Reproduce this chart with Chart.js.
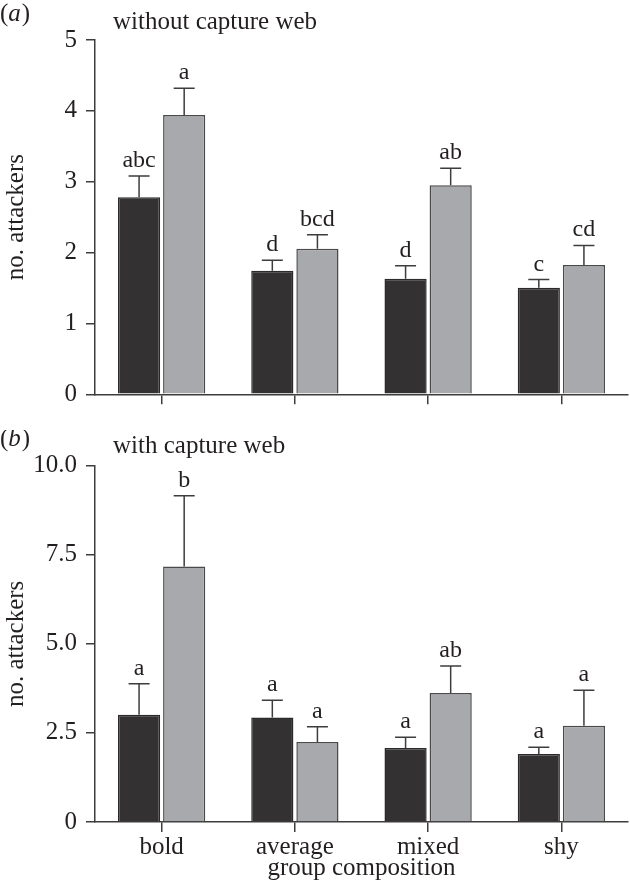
<!DOCTYPE html>
<html>
<head>
<meta charset="utf-8">
<script src="https://cdn.jsdelivr.net/npm/chart.js@4.4.1/dist/chart.umd.min.js"></script>
<style>
  html, body { margin: 0; padding: 0; background: #fff; }
  #wrap { position: relative; width: 630px; height: 885px; }
  canvas { position: absolute; left: 0; }
  #chart-a { top: 0; }
  #chart-b { top: 430px; }
</style>
</head>
<body>
<div id="wrap">
  <canvas id="chart-a" width="630" height="430"></canvas>
  <canvas id="chart-b" width="630" height="455"></canvas>
</div>
<script>
// ---- data ----
const groups = ['bold', 'average', 'mixed', 'shy'];

// (a) without capture web
const noWebDark = [2.78, 1.745, 1.63, 1.505];
const noWebDarkSE = [0.30, 0.145, 0.185, 0.115];
const noWebGrey = [3.94, 2.055, 2.95, 1.825];
const noWebGreySE = [0.38, 0.195, 0.24, 0.275];
const noWebDarkLetters = ['abc', 'd', 'd', 'c'];
const noWebGreyLetters = ['a', 'bcd', 'ab', 'cd'];
const noWebTicks = [0, 1, 2, 3, 4, 5];

// (b) with capture web
const webDark = [3.01, 2.93, 2.08, 1.91];
const webDarkSE = [0.87, 0.49, 0.30, 0.19];
const webGrey = [7.17, 2.245, 3.62, 2.70];
const webGreySE = [1.99, 0.43, 0.76, 1.00];
const webDarkLetters = ['a', 'a', 'a', 'a'];
const webGreyLetters = ['b', 'a', 'ab', 'a'];
const webTicks = [0, 2.5, 5, 7.5, 10];

const SERIF = '"Liberation Serif", "Times New Roman", serif';
const INK = '#231f20';
const AXIS = '#3d3d3d';
const FS = 25;

Chart.defaults.font.family = SERIF;
Chart.defaults.font.size = FS;
Chart.defaults.color = INK;

// error bars + significance letters above each bar
const errorBars = {
    id: 'errorBars',
    afterDatasetsDraw(chart) {
        const ctx = chart.ctx;
        const y = chart.scales.y;
        ctx.save();
        ctx.strokeStyle = AXIS;
        ctx.lineWidth = 1.5;
        ctx.fillStyle = INK;
        ctx.font = '24px ' + SERIF;
        ctx.textAlign = 'center';
        ctx.textBaseline = 'alphabetic';
        chart.data.datasets.forEach((ds, i) => {
            chart.getDatasetMeta(i).data.forEach((bar, j) => {
                const top = y.getPixelForValue(ds.data[j] + ds.se[j]);
                ctx.beginPath();
                ctx.moveTo(bar.x, bar.y);
                ctx.lineTo(bar.x, top);
                ctx.moveTo(bar.x - 10.5, top);
                ctx.lineTo(bar.x + 10.5, top);
                ctx.stroke();
                ctx.fillText(ds.letters[j], bar.x, top - 9);
            });
        });
        ctx.restore();
    }
};

// panel tag "(a)" and heading
const panelText = {
    id: 'panelText',
    afterDraw(chart, args, opts) {
        const ctx = chart.ctx;
        ctx.save();
        ctx.fillStyle = INK;
        ctx.textBaseline = 'alphabetic';
        ctx.textAlign = 'left';
        let x = 0;
        ctx.font = FS + 'px ' + SERIF;
        ctx.fillText('(', x, opts.tagY);
        x += ctx.measureText('(').width;
        ctx.font = 'italic ' + FS + 'px ' + SERIF;
        ctx.fillText(opts.tag, x, opts.tagY);
        x += ctx.measureText(opts.tag).width + 1;
        ctx.font = FS + 'px ' + SERIF;
        ctx.fillText(')', x, opts.tagY);
        ctx.fillText(opts.title, 113, opts.titleY);
        ctx.restore();
    }
};

function makeChart(id, cfg) {
    return new Chart(document.getElementById(id), {
        type: 'bar',
        data: {
            labels: groups,
            datasets: [
                { label: 'dark', data: cfg.dark, se: cfg.darkSE, letters: cfg.darkLetters,
                  backgroundColor: '#333132', borderColor: '#2b292a', borderWidth: 1.5 },
                { label: 'grey', data: cfg.grey, se: cfg.greySE, letters: cfg.greyLetters,
                  backgroundColor: '#a8a9ac', borderColor: '#4a4a4c', borderWidth: 1.5 }
            ]
        },
        options: {
            responsive: false,
            animation: false,
            devicePixelRatio: 1,
            categoryPercentage: 0.677,
            barPercentage: 0.935,
            layout: { padding: { top: cfg.top, right: 2, left: 0, bottom: 0 } },
            plugins: {
                legend: { display: false },
                tooltip: { enabled: false },
                panelText: cfg.panel
            },
            scales: {
                x: {
                    grid: { display: true, drawOnChartArea: false, drawTicks: true, offset: false,
                            tickLength: 10, color: AXIS, lineWidth: 1.5 },
                    border: { display: true, color: AXIS, width: 1.5 },
                    ticks: { display: cfg.showLabels, padding: 0, font: { size: FS, lineHeight: 1.2 } },
                    title: { display: cfg.showLabels, text: 'group composition',
                             font: { size: FS, lineHeight: 1.2 }, padding: { top: 0, bottom: 2 } },
                    afterFit: s => { s.height = cfg.xHeight; }
                },
                y: {
                    min: cfg.ticks[0],
                    max: cfg.ticks[cfg.ticks.length - 1],
                    afterBuildTicks: s => { s.ticks = cfg.ticks.map(v => ({ value: v })); },
                    grid: { display: true, drawOnChartArea: false, drawTicks: true,
                            tickLength: 9, color: AXIS, lineWidth: 1.5 },
                    border: { display: true, color: AXIS, width: 1.5 },
                    ticks: { padding: 9, callback: cfg.fmt },
                    title: { display: true, text: 'no. attackers',
                             font: { size: FS, lineHeight: 1.2 }, padding: { top: 1, bottom: 0 } },
                    afterFit: s => { s.width = 95; }
                }
            }
        },
        plugins: [errorBars, panelText]
    });
}

makeChart('chart-a', {
    dark: noWebDark, darkSE: noWebDarkSE, darkLetters: noWebDarkLetters,
    grey: noWebGrey, greySE: noWebGreySE, greyLetters: noWebGreyLetters,
    ticks: noWebTicks, fmt: v => String(v),
    top: 40, xHeight: 35.7, showLabels: false,
    panel: { tag: 'a', title: 'without capture web', tagY: 20.5, titleY: 28.5 }
});

makeChart('chart-b', {
    dark: webDark, darkSE: webDarkSE, darkLetters: webDarkLetters,
    grey: webGrey, greySE: webGreySE, greyLetters: webGreyLetters,
    ticks: webTicks, fmt: v => (v === 0 ? '0' : v.toFixed(1)),
    top: 35.7, xHeight: 63, showLabels: true,
    panel: { tag: 'b', title: 'with capture web', tagY: 16, titleY: 22.7 }
});
</script>
</body>
</html>
